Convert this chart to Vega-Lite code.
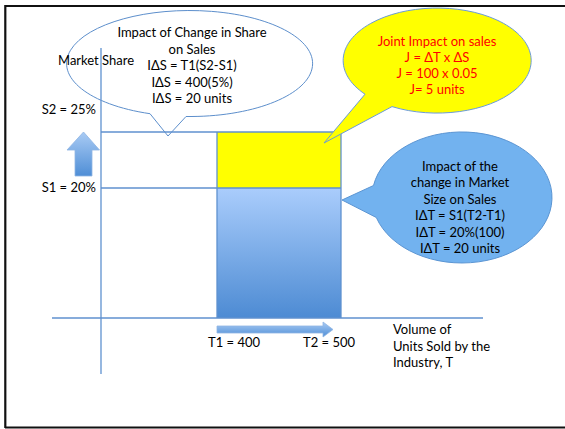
{
  "$schema": "https://vega.github.io/schema/vega-lite/v6.json",
  "width": 565,
  "height": 429,
  "padding": 0,
  "autosize": {"type": "none"},
  "background": "white",
  "config": {"view": {"stroke": null}},
  "datasets": {
    "frame": [
      {"x": 5, "y": 6, "x2": 565, "y2": 6},
      {"x": 5.3, "y": 5, "x2": 5.3, "y2": 428},
      {"x": 5, "y": 427.5, "x2": 565, "y2": 427.5}
    ],
    "guides": [
      {"part": "share axis", "x": 101, "y": 48, "x2": 101, "y2": 374},
      {"part": "volume axis", "x": 52, "y": 318, "x2": 483, "y2": 318},
      {"part": "S2", "x": 101, "y": 132, "x2": 341, "y2": 132},
      {"part": "S1", "x": 101, "y": 188, "x2": 341, "y2": 188},
      {"part": "T1", "x": 217, "y": 132, "x2": 217, "y2": 318},
      {"part": "T2", "x": 341, "y": 132, "x2": 341, "y2": 318}
    ],
    "joint": [{"x": 217, "y": 132, "x2": 341, "y2": 188}],
    "sizeEffect": [{"x": 217, "y": 188, "x2": 341, "y2": 318}],
    "shareCallout": [{"x": 189.5, "y": 63.5}],
    "jointCallout": [{"x": 437, "y": 60.5}],
    "sizeCallout": [{"x": 462, "y": 197.5}],
    "upArrow": [{"x": 83.5, "y": 154}],
    "rightArrow": [{"x": 275, "y": 329.5}],
    "blockText": [
      {"x": 192, "y": 33, "text": "Impact of Change in Share\non Sales\nIΔS = T1(S2-S1)\nIΔS = 400(5%)\nIΔS = 20 units"},
      {"x": 460, "y": 166.7, "text": "Impact of the\nchange in Market\nSize on Sales\nIΔT = S1(T2-T1)\nIΔT = 20%(100)\nIΔT = 20 units"},
      {"x": 234, "y": 343, "text": "T1 = 400"},
      {"x": 329, "y": 343, "text": "T2 = 500"}
    ],
    "jointText": [
      {"x": 437, "y": 42, "text": "Joint Impact on  sales\nJ = ΔT x ΔS\nJ = 100 x 0.05\nJ= 5 units"}
    ],
    "leftText": [
      {"x": 58, "y": 61, "text": "Market Share"},
      {"x": 393, "y": 330, "text": "Volume of\nUnits Sold by the\nIndustry, T"}
    ],
    "rightText": [
      {"x": 96, "y": 110, "text": "S2 = 25%"},
      {"x": 96, "y": 188, "text": "S1 = 20%"}
    ]
  },
  "encoding": {
    "x": {"field": "x", "type": "quantitative", "axis": null, "scale": {"domain": [0, 565], "nice": false, "zero": false}},
    "y": {"field": "y", "type": "quantitative", "axis": null, "scale": {"domain": [0, 429], "nice": false, "zero": false, "reverse": true}}
  },
  "layer": [
    {
      "data": {"name": "frame"},
      "mark": {"type": "rule", "color": "#111111", "strokeWidth": 2.2},
      "encoding": {"x2": {"field": "x2"}, "y2": {"field": "y2"}}
    },
    {
      "data": {"name": "joint"},
      "mark": {"type": "rect", "fill": "#ffff00"},
      "encoding": {"x2": {"field": "x2"}, "y2": {"field": "y2"}}
    },
    {
      "data": {"name": "sizeEffect"},
      "mark": {
        "type": "rect",
        "fill": {
          "gradient": "linear", "x1": 0, "y1": 0, "x2": 0, "y2": 1,
          "stops": [{"offset": 0, "color": "#aacdfc"}, {"offset": 1, "color": "#4d8bd3"}]
        }
      },
      "encoding": {"x2": {"field": "x2"}, "y2": {"field": "y2"}}
    },
    {
      "data": {"name": "shareCallout"},
      "mark": {
        "type": "point", "filled": true, "opacity": 1, "size": 4,
        "fill": "#ffffff", "stroke": "#5d8fcc", "strokeWidth": 1,
        "shape": "M -39.5 50.2 L -21.5 72.5 L -3.5 53 A 123 53 0 1 0 -39.5 50.2 Z"
      }
    },
    {
      "data": {"name": "guides"},
      "mark": {"type": "rule", "color": "#5f91cf", "strokeWidth": 1.3},
      "encoding": {"x2": {"field": "x2"}, "y2": {"field": "y2"}}
    },
    {
      "data": {"name": "jointCallout"},
      "mark": {
        "type": "point", "filled": true, "opacity": 1, "size": 4,
        "fill": "#ffff00", "stroke": "#6b9bd6", "strokeWidth": 1,
        "shape": "M -72 33.7 L -113 82.5 L -45 46.1 A 94 52.5 0 1 0 -72 33.7 Z"
      }
    },
    {
      "data": {"name": "sizeCallout"},
      "mark": {
        "type": "point", "filled": true, "opacity": 1, "size": 4,
        "fill": "#72b2ef", "stroke": "#5b95d3", "strokeWidth": 1,
        "shape": "M -88.5 -12 L -120 2.5 L -85.7 20 A 90 65.5 0 1 0 -88.5 -12 Z"
      }
    },
    {
      "data": {"name": "upArrow"},
      "mark": {
        "type": "point", "filled": true, "opacity": 1, "size": 4,
        "fill": {
          "gradient": "linear", "x1": 0, "y1": 0, "x2": 0, "y2": 1,
          "stops": [{"offset": 0, "color": "#a9cbf4"}, {"offset": 1, "color": "#4f8ed6"}]
        },
        "stroke": "#8fb5e3", "strokeWidth": 0.8,
        "shape": "M 0 -22 L 16 -4 L 8.5 -4 L 8.5 22 L -8.5 22 L -8.5 -4 L -16.5 -4 Z"
      }
    },
    {
      "data": {"name": "rightArrow"},
      "mark": {
        "type": "point", "filled": true, "opacity": 1, "size": 4,
        "fill": {
          "gradient": "linear", "x1": 0, "y1": 0, "x2": 0, "y2": 1,
          "stops": [{"offset": 0, "color": "#a9cbf4"}, {"offset": 1, "color": "#4f8ed6"}]
        },
        "stroke": "#8fb5e3", "strokeWidth": 0.8,
        "shape": "M -58 -3.5 L 48 -3.5 L 48 -7.5 L 58 0 L 48 7.5 L 48 3.5 L -58 3.5 Z"
      }
    },
    {
      "data": {"name": "blockText"},
      "mark": {"type": "text", "font": "Lato, Noto Sans", "fontSize": 13, "color": "#000000", "align": "center", "baseline": "middle", "lineBreak": "\n", "lineHeight": 16.5},
      "encoding": {"text": {"field": "text"}}
    },
    {
      "data": {"name": "jointText"},
      "mark": {"type": "text", "font": "Lato, Noto Sans", "fontSize": 13, "color": "#ff0000", "align": "center", "baseline": "middle", "lineBreak": "\n", "lineHeight": 16},
      "encoding": {"text": {"field": "text"}}
    },
    {
      "data": {"name": "leftText"},
      "mark": {"type": "text", "font": "Lato, Noto Sans", "fontSize": 13, "color": "#000000", "align": "left", "baseline": "middle", "lineBreak": "\n", "lineHeight": 16.5},
      "encoding": {"text": {"field": "text"}}
    },
    {
      "data": {"name": "rightText"},
      "mark": {"type": "text", "font": "Lato, Noto Sans", "fontSize": 13, "color": "#000000", "align": "right", "baseline": "middle"},
      "encoding": {"text": {"field": "text"}}
    }
  ]
}
